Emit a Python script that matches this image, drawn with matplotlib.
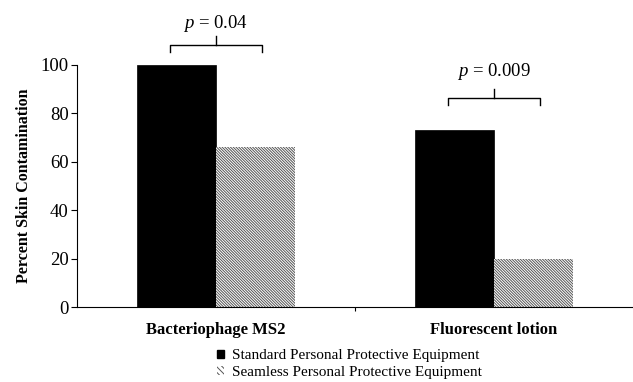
import matplotlib
matplotlib.use("Agg")
import matplotlib.pyplot as plt
import numpy as np
from matplotlib.patches import Patch

plt.rcParams["font.family"] = ["Liberation Serif", "DejaVu Serif"]
plt.rcParams["mathtext.fontset"] = "custom"
plt.rcParams["mathtext.it"] = "Liberation Serif:italic"
plt.rcParams["mathtext.rm"] = "Liberation Serif"
plt.rcParams["hatch.linewidth"] = 0.7

categories = ["Bacteriophage MS2", "Fluorescent lotion"]
series_names = ["Standard Personal Protective Equipment",
                "Seamless Personal Protective Equipment"]
standard_ppe = [100, 73]
seamless_ppe = [66, 20]
p_labels = ["0.04", "0.009"]

fig = plt.figure(figsize=(6.33, 3.82), dpi=100)
ax = fig.add_axes([0.1216, 0.196, 0.8784, 0.634])

x = np.arange(len(categories))
w = 0.285
ax.bar(x - w / 2, standard_ppe, w, color="black", edgecolor="black", linewidth=0.5)
ax.bar(x + w / 2, seamless_ppe, w, color="white", edgecolor="#555555",
       hatch="\\" * 12, linewidth=0)

ax.set_xlim(-0.5, 1.5)
ax.set_ylim(0, 100)
ax.set_yticks(range(0, 101, 20))
ax.set_xticks([0.5])
ax.set_xticklabels([""])
ax.tick_params(axis="x", length=3, width=0.8)
ax.tick_params(axis="y", length=4, width=0.8, labelsize=13.5, pad=2)
for s in ("top", "right"):
    ax.spines[s].set_visible(False)
ax.spines["left"].set_bounds(0, 100)
ax.set_ylabel("Percent Skin Contamination", fontsize=11.5, fontweight="bold", labelpad=6)

for xi, name in zip(x, categories):
    ax.text(xi, -6, name, ha="center", va="top", fontsize=12, fontweight="bold",
            clip_on=False)

# significance brackets
bracket_y = [108.3, 86.4]
text_gap = [7, 9]
half = 0.165
for xi, by, gap, p in zip(x, bracket_y, text_gap, p_labels):
    ax.plot([xi - half, xi - half, xi + half, xi + half],
            [by - 3, by, by, by - 3], color="black", lw=1, clip_on=False)
    ax.plot([xi, xi], [by, by + 3.5], color="black", lw=1, clip_on=False)
    ax.text(xi, by + gap, "$p$ = " + p, ha="center", va="baseline", fontsize=13.5,
            clip_on=False)

handles = [Patch(facecolor="black", edgecolor="black"),
           Patch(facecolor="white", edgecolor="#555555", hatch="\\" * 6, linewidth=0)]
fig.legend(handles, series_names, loc="center", bbox_to_anchor=(0.552, 0.047),
           frameon=False, fontsize=11, handlelength=0.45, handleheight=0.45,
           handletextpad=0.5, labelspacing=0.25, borderpad=0)

fig.savefig("out.png", dpi=100)
